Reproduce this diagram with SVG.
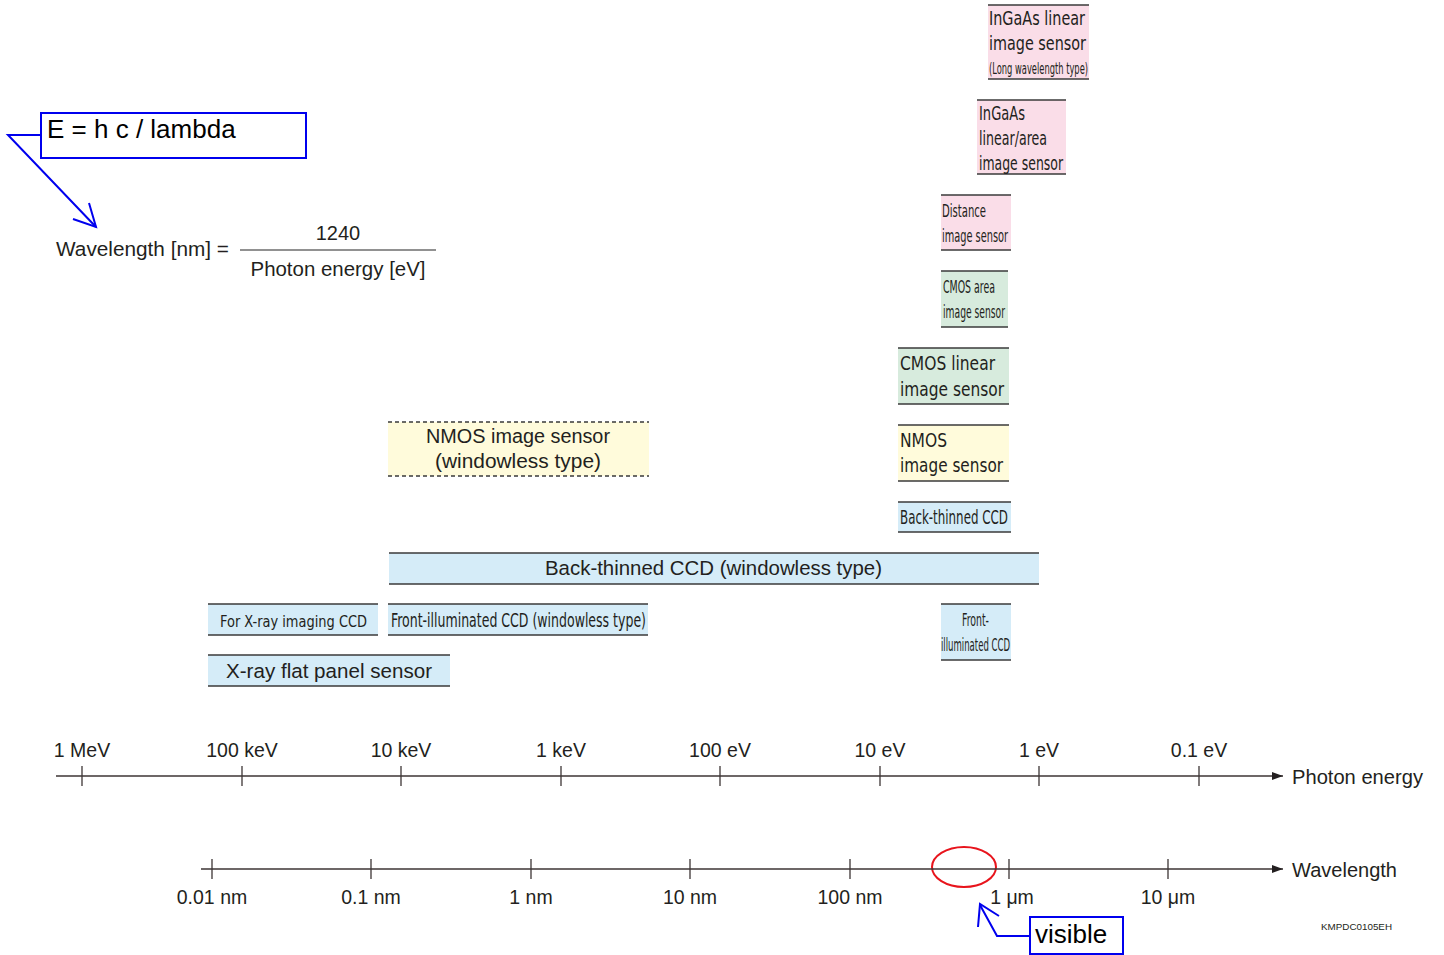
<svg xmlns="http://www.w3.org/2000/svg" width="1444" height="955" viewBox="0 0 1444 955">
<style>
.t{font-family:"Liberation Sans",Arial,sans-serif;fill:#231f20}
.n{font-family:"Liberation Sans Narrow","DejaVu Sans Condensed","Liberation Sans",Arial,sans-serif;fill:#231f20}
.bx{font-size:19px}
.pk{fill:#fadde8}.gr{fill:#d7ebdd}.yl{fill:#fffbdb}.bl{fill:#d5ecf8}
.edge{stroke:#3a3a3a;stroke-width:1.5}
.ax{stroke:#3d3535;stroke-width:1.3;fill:none}
.lab{font-size:19.5px;text-anchor:middle}
.blue{stroke:#0000ee;stroke-width:2;fill:none}
</style>
<defs>
<marker id="ah" markerWidth="12" markerHeight="8" refX="11" refY="4" orient="auto" markerUnits="userSpaceOnUse">
<path d="M0,0 L11,4 L0,8 Z" fill="#231f20"/>
</marker>
</defs>
<rect width="1444" height="955" fill="#fff"/>

<g id="ingaas-long">
<rect class="pk" x="988" y="5" width="101" height="74"/>
<line class="edge" x1="988" y1="5" x2="1089" y2="5"/><line class="edge" x1="988" y1="79" x2="1089" y2="79"/>
<text class="n bx" x="989" y="25" textLength="96" lengthAdjust="spacingAndGlyphs">InGaAs linear</text>
<text class="n bx" x="989" y="50" textLength="97" lengthAdjust="spacingAndGlyphs">image sensor</text>
<text class="n" font-size="15" x="989" y="74" textLength="99" lengthAdjust="spacingAndGlyphs">(Long wavelength type)</text>
</g>
<g id="ingaas-area">
<rect class="pk" x="977" y="100" width="89" height="74"/>
<line class="edge" x1="977" y1="100" x2="1066" y2="100"/><line class="edge" x1="977" y1="174" x2="1066" y2="174"/>
<text class="n bx" x="979" y="120" textLength="46" lengthAdjust="spacingAndGlyphs">InGaAs</text>
<text class="n bx" x="979" y="145" textLength="68" lengthAdjust="spacingAndGlyphs">linear/area</text>
<text class="n bx" x="979" y="170" textLength="84" lengthAdjust="spacingAndGlyphs">image sensor</text>
</g>
<g id="distance">
<rect class="pk" x="941" y="195" width="70" height="55"/>
<line class="edge" x1="941" y1="195" x2="1011" y2="195"/><line class="edge" x1="941" y1="250" x2="1011" y2="250"/>
<text class="n" font-size="17" x="942" y="217" textLength="44" lengthAdjust="spacingAndGlyphs">Distance</text>
<text class="n" font-size="17" x="942" y="242" textLength="66" lengthAdjust="spacingAndGlyphs">image sensor</text>
</g>
<g id="cmos-area">
<rect class="gr" x="941" y="271" width="67" height="56"/>
<line class="edge" x1="941" y1="271" x2="1008" y2="271"/><line class="edge" x1="941" y1="327" x2="1008" y2="327"/>
<text class="n" font-size="17" x="943" y="293" textLength="52" lengthAdjust="spacingAndGlyphs">CMOS area</text>
<text class="n" font-size="17" x="943" y="318" textLength="62" lengthAdjust="spacingAndGlyphs">image sensor</text>
</g>
<g id="cmos-linear">
<rect class="gr" x="898" y="348" width="111" height="56"/>
<line class="edge" x1="898" y1="348" x2="1009" y2="348"/><line class="edge" x1="898" y1="404" x2="1009" y2="404"/>
<text class="n" font-size="20" x="900" y="370" textLength="95" lengthAdjust="spacingAndGlyphs">CMOS linear</text>
<text class="n" font-size="20" x="900" y="396" textLength="104" lengthAdjust="spacingAndGlyphs">image sensor</text>
</g>
<g id="nmos">
<rect class="yl" x="898" y="425" width="111" height="56"/>
<line class="edge" x1="898" y1="425" x2="1009" y2="425"/><line class="edge" x1="898" y1="481" x2="1009" y2="481"/>
<text class="n" font-size="20" x="900" y="447" textLength="47" lengthAdjust="spacingAndGlyphs">NMOS</text>
<text class="n" font-size="20" x="900" y="472" textLength="103" lengthAdjust="spacingAndGlyphs">image sensor</text>
</g>
<g id="nmos-windowless">
<rect class="yl" x="388" y="422" width="261" height="54"/>
<line class="edge" x1="388" y1="422" x2="649" y2="422" stroke-dasharray="4,3"/><line class="edge" x1="388" y1="476" x2="649" y2="476" stroke-dasharray="4,3"/>
<text class="t" font-size="20" x="518" y="443" text-anchor="middle" textLength="184" lengthAdjust="spacingAndGlyphs">NMOS image sensor</text>
<text class="t" font-size="20" x="518" y="468" text-anchor="middle" textLength="166" lengthAdjust="spacingAndGlyphs">(windowless type)</text>
</g>
<g id="bt-ccd">
<rect class="bl" x="898" y="502" width="113" height="30"/>
<line class="edge" x1="898" y1="502" x2="1011" y2="502"/><line class="edge" x1="898" y1="532" x2="1011" y2="532"/>
<text class="n" font-size="19" x="900" y="524" textLength="108" lengthAdjust="spacingAndGlyphs">Back-thinned CCD</text>
</g>
<g id="bt-ccd-windowless">
<rect class="bl" x="389" y="553" width="650" height="31"/>
<line class="edge" x1="389" y1="553" x2="1039" y2="553"/><line class="edge" x1="389" y1="584" x2="1039" y2="584"/>
<text class="t" font-size="20.5" x="545" y="575" textLength="337" lengthAdjust="spacingAndGlyphs">Back-thinned CCD (windowless type)</text>
</g>
<g id="xray-ccd">
<rect class="bl" x="208" y="604" width="170" height="31"/>
<line class="edge" x1="208" y1="604" x2="378" y2="604"/><line class="edge" x1="208" y1="635" x2="378" y2="635"/>
<text class="n" font-size="16" x="220" y="627" textLength="147" lengthAdjust="spacingAndGlyphs">For X-ray imaging CCD</text>
</g>
<g id="fi-ccd-windowless">
<rect class="bl" x="388" y="604" width="260" height="31"/>
<line class="edge" x1="388" y1="604" x2="648" y2="604"/><line class="edge" x1="388" y1="635" x2="648" y2="635"/>
<text class="n bx" x="391" y="627" textLength="255" lengthAdjust="spacingAndGlyphs">Front-illuminated CCD (windowless type)</text>
</g>
<g id="fi-ccd">
<rect class="bl" x="941" y="604" width="70" height="56"/>
<line class="edge" x1="941" y1="604" x2="1011" y2="604"/><line class="edge" x1="941" y1="660" x2="1011" y2="660"/>
<text class="n" font-size="17" x="962" y="626" textLength="27" lengthAdjust="spacingAndGlyphs">Front-</text>
<text class="n" font-size="17" x="941" y="651" textLength="69" lengthAdjust="spacingAndGlyphs">illuminated CCD</text>
</g>
<g id="xray-fps">
<rect class="bl" x="208" y="655" width="242" height="31"/>
<line class="edge" x1="208" y1="655" x2="450" y2="655"/><line class="edge" x1="208" y1="686" x2="450" y2="686"/>
<text class="t" font-size="20.5" x="226" y="678" textLength="206" lengthAdjust="spacingAndGlyphs">X-ray flat panel sensor</text>
</g>

<g id="formula">
<text class="t" font-size="20.5" x="56" y="256" textLength="173" lengthAdjust="spacingAndGlyphs">Wavelength [nm] =</text>
<text class="t" font-size="20" x="338" y="240" text-anchor="middle">1240</text>
<line x1="240" y1="250" x2="436" y2="250" stroke="#6d6d6d" stroke-width="1.3"/>
<text class="t" font-size="20.5" x="338" y="276" text-anchor="middle" textLength="175" lengthAdjust="spacingAndGlyphs">Photon energy [eV]</text>
</g>

<g id="ehc">
<rect class="blue" x="41" y="113" width="265" height="45"/>
<text font-family="Liberation Sans,Arial,sans-serif" font-size="26" fill="#000" x="47" y="138">E = h c / lambda</text>
</g>

<g id="visible">
<rect class="blue" x="1030" y="917" width="93" height="37"/>
<text font-family="Liberation Sans,Arial,sans-serif" font-size="26" fill="#000" x="1035" y="943">visible</text>
</g>
<ellipse id="visible-range" cx="964" cy="867" rx="32" ry="20" fill="none" stroke="#e8141c" stroke-width="2"/>

<g id="connectors">
<polyline class="blue" points="41,135 8,135 96,227"/>
<polyline class="blue" points="73,219 96,227 89,203"/>
<polyline class="blue" points="1030,936 997,936 980,905"/>
<polyline class="blue" points="978,927 980,904 999,916"/>
</g>

<g id="energy-axis">
<line class="ax" x1="56" y1="776" x2="1283" y2="776" marker-end="url(#ah)"/>
<g class="ax">
<line x1="82" y1="766" x2="82" y2="786"/><line x1="242" y1="766" x2="242" y2="786"/><line x1="401" y1="766" x2="401" y2="786"/><line x1="561" y1="766" x2="561" y2="786"/><line x1="720" y1="766" x2="720" y2="786"/><line x1="880" y1="766" x2="880" y2="786"/><line x1="1039" y1="766" x2="1039" y2="786"/><line x1="1199" y1="766" x2="1199" y2="786"/>
</g>
<g class="t lab">
<text x="82" y="757">1 MeV</text><text x="242" y="757">100 keV</text><text x="401" y="757">10 keV</text><text x="561" y="757">1 keV</text><text x="720" y="757">100 eV</text><text x="880" y="757">10 eV</text><text x="1039" y="757">1 eV</text><text x="1199" y="757">0.1 eV</text>
</g>
<text class="t" font-size="20.5" x="1292" y="784" textLength="131" lengthAdjust="spacingAndGlyphs">Photon energy</text>
</g>

<g id="wavelength-axis">
<line class="ax" x1="201" y1="869" x2="1283" y2="869" marker-end="url(#ah)"/>
<g class="ax">
<line x1="212" y1="859" x2="212" y2="879"/><line x1="371" y1="859" x2="371" y2="879"/><line x1="531" y1="859" x2="531" y2="879"/><line x1="690" y1="859" x2="690" y2="879"/><line x1="850" y1="859" x2="850" y2="879"/><line x1="1009" y1="859" x2="1009" y2="879"/><line x1="1168" y1="859" x2="1168" y2="879"/>
</g>
<g class="t lab">
<text x="212" y="904">0.01 nm</text><text x="371" y="904">0.1 nm</text><text x="531" y="904">1 nm</text><text x="690" y="904">10 nm</text><text x="850" y="904">100 nm</text><text x="1012" y="904">1 μm</text><text x="1168" y="904">10 μm</text>
</g>
<text class="t" font-size="20.5" x="1292" y="877" textLength="105" lengthAdjust="spacingAndGlyphs">Wavelength</text>
</g>

<text class="t" font-size="9.5" x="1321" y="930" textLength="71" lengthAdjust="spacingAndGlyphs">KMPDC0105EH</text>
</svg>
